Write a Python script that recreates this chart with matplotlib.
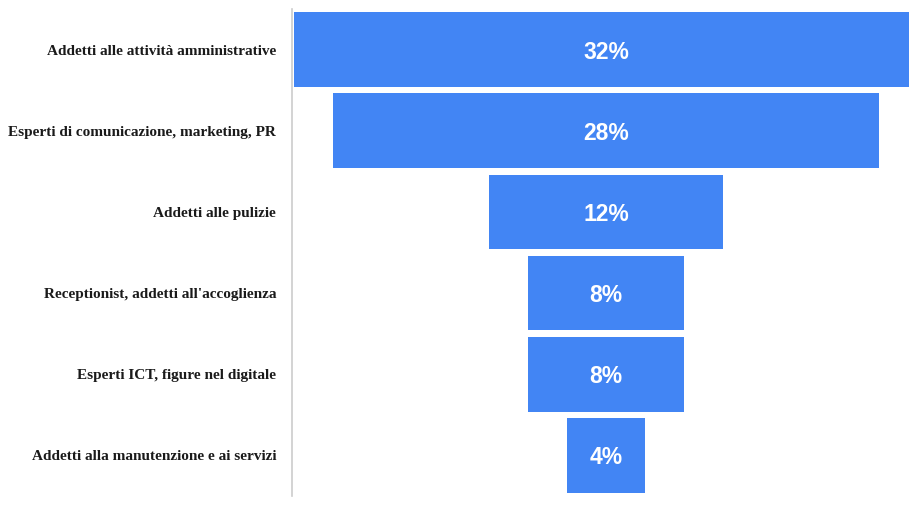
"""Funnel chart: professional profiles most requested (share of hires)."""

import matplotlib.pyplot as plt

categories = [
    "Addetti alle attività amministrative",
    "Esperti di comunicazione, marketing, PR",
    "Addetti alle pulizie",
    "Receptionist, addetti all'accoglienza",
    "Esperti ICT, figure nel digitale",
    "Addetti alla manutenzione e ai servizi",
]
shares = [32, 28, 12, 8, 8, 4]

BAR_COLOR = "#4285F4"

W, H = 909, 505
fig = plt.figure(figsize=(W / 100, H / 100), dpi=100)
ax = fig.add_axes([292 / W, 1 - 496 / H, (909 - 292) / W, (496 - 9) / H])

ypos = range(len(categories))
lefts = [-s / 2 for s in shares]
ax.barh(ypos, shares, left=lefts, height=0.92, color=BAR_COLOR)

for y, s in zip(ypos, shares):
    ax.text(0, y + 0.03, f"{s}%", ha="center", va="center", color="white",
            fontsize=16.5, fontweight="bold", family="Liberation Sans")

center_px = 606
scale = 19.5  # px per percent
ax.set_xlim(-(center_px - 292) / scale, (909 - center_px) / scale)
ax.set_ylim(len(categories) - 0.5, -0.5)

ax.set_yticks(list(ypos))
ax.set_yticklabels(categories, family="Liberation Serif", fontweight="bold",
                   fontsize=11, color="#1a1a1a")
ax.tick_params(axis="y", length=0, pad=11.5)
ax.set_xticks([])

for side in ("top", "right", "bottom"):
    ax.spines[side].set_visible(False)
ax.spines["left"].set_color("#cccccc")
ax.spines["left"].set_linewidth(1.2)

fig.savefig("out.png", dpi=100)
plt.close(fig)
